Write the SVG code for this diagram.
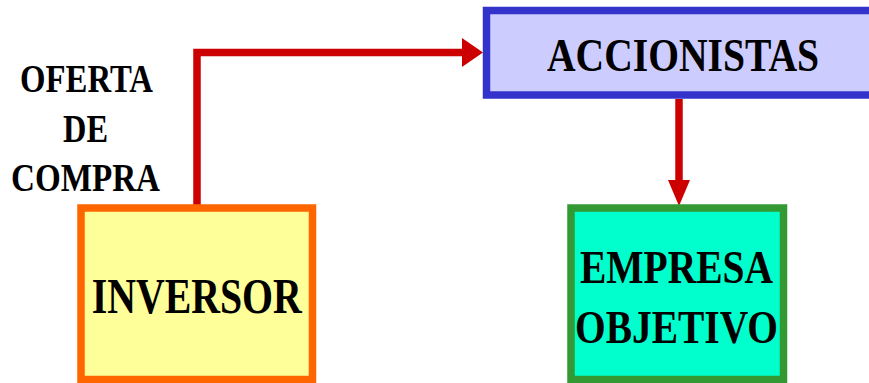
<svg xmlns="http://www.w3.org/2000/svg" width="869" height="383" viewBox="0 0 869 383">
<style>
text{font-family:"Liberation Serif","Times New Roman",serif;font-weight:bold;fill:#000;text-anchor:middle}
.lbl{font-size:40px}
.conn{fill:none;stroke:#CC0000;stroke-width:7.5}
.head{fill:#CC0000;stroke:none}
</style>
<rect width="869" height="383" fill="#FFFFFF"/>
<g id="connectors">
<path class="conn" d="M197,205 L197,52.5 L464,52.5"/>
<polygon class="head" points="462,38 483,52.5 462,67"/>
<path class="conn" d="M679,99 L679,182"/>
<polygon class="head" points="668,180 690,180 679,206"/>
</g>
<g id="label-oferta">
<text class="lbl" x="86.5" y="92" textLength="133" lengthAdjust="spacingAndGlyphs">OFERTA</text>
<text class="lbl" x="85.5" y="142" textLength="45" lengthAdjust="spacingAndGlyphs">DE</text>
<text class="lbl" x="85.5" y="191" textLength="149" lengthAdjust="spacingAndGlyphs">COMPRA</text>
</g>
<g id="node-inversor">
<rect x="81" y="208" width="231.5" height="171.5" fill="#FFFF99" stroke="#FF6600" stroke-width="7.5"/>
<text x="196.7" y="313" textLength="210" lengthAdjust="spacingAndGlyphs" style="font-size:50px">INVERSOR</text>
</g>
<g id="node-accionistas">
<rect x="486.5" y="10.5" width="400" height="84.5" fill="#CCCCFF" stroke="#3333CC" stroke-width="7.5"/>
<text x="683" y="71" textLength="272" lengthAdjust="spacingAndGlyphs" style="font-size:47px">ACCIONISTAS</text>
</g>
<g id="node-empresa">
<rect x="571" y="208" width="212.5" height="171.5" fill="#00FFCC" stroke="#339933" stroke-width="7.5"/>
<text x="676.5" y="283" textLength="193" lengthAdjust="spacingAndGlyphs" style="font-size:46px">EMPRESA</text>
<text x="676.5" y="343" textLength="203" lengthAdjust="spacingAndGlyphs" style="font-size:47px">OBJETIVO</text>
</g>
</svg>
